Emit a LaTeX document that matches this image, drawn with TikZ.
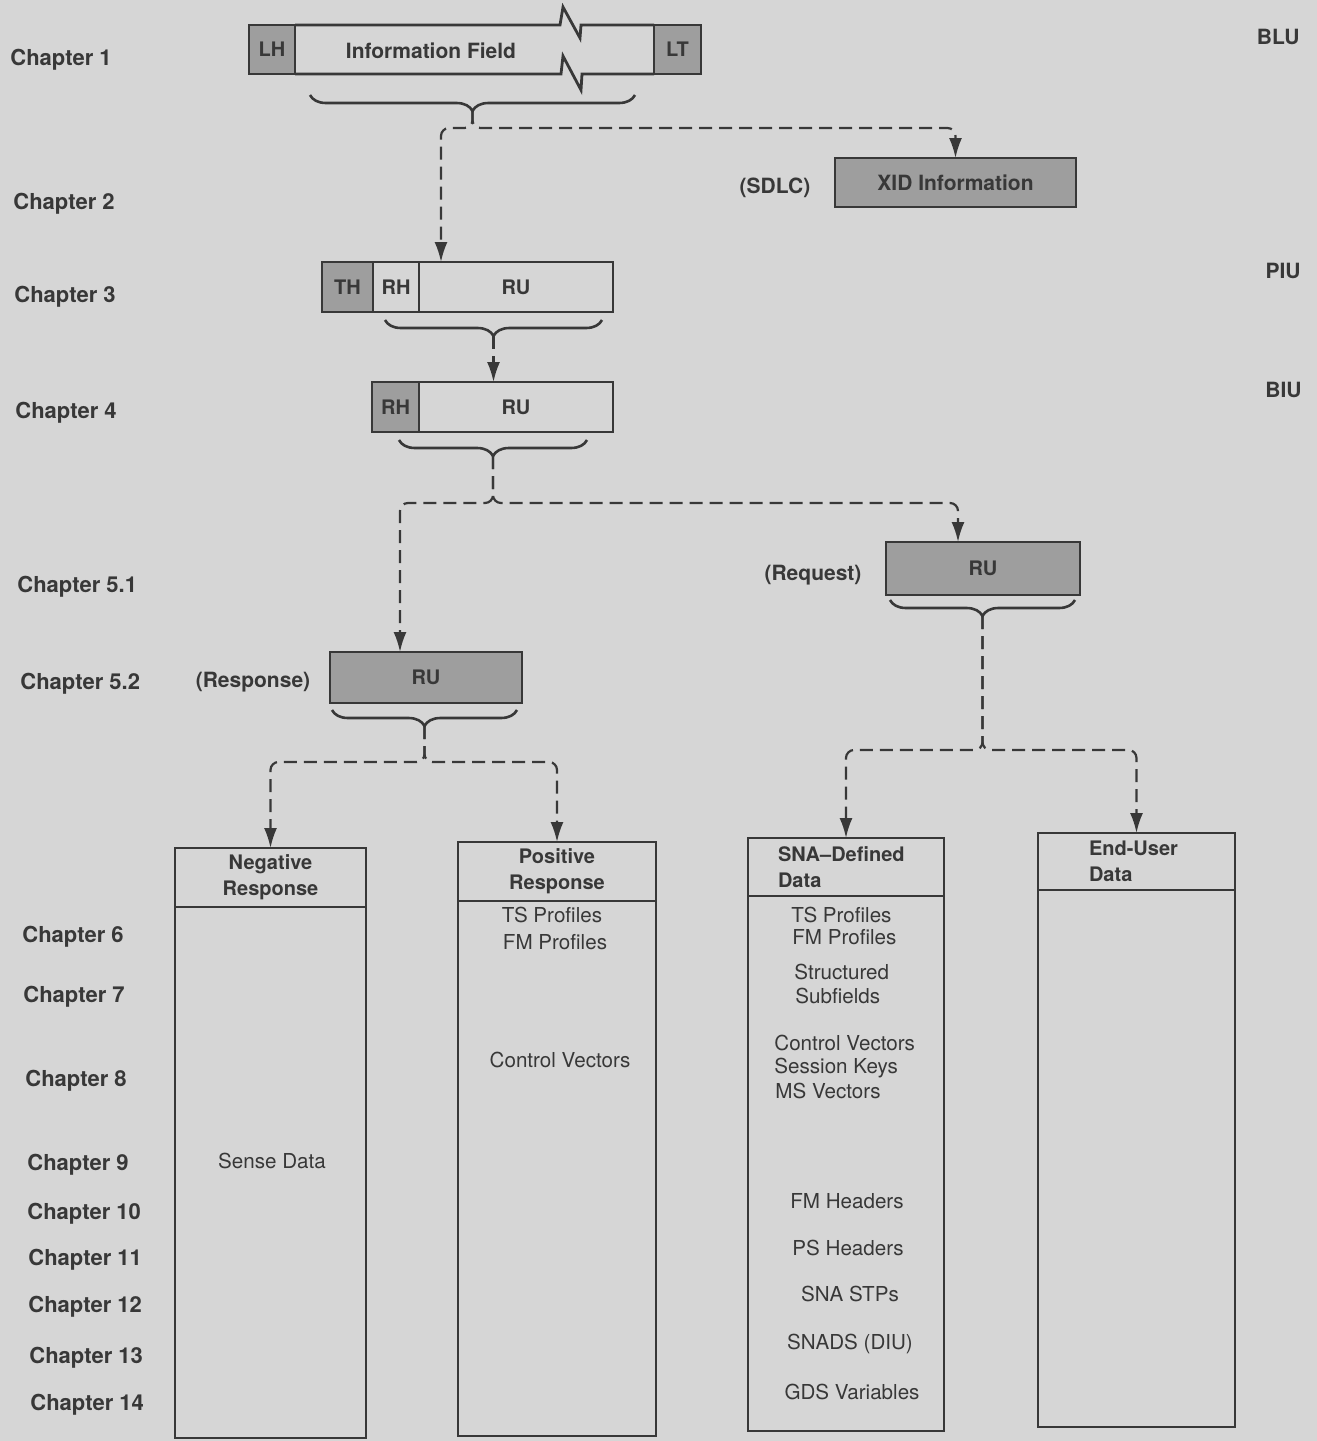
\documentclass[tikz,border=0pt]{standalone}
\usepackage{fontspec}
\setmainfont{TeX Gyre Heros}
\usetikzlibrary{arrows.meta,decorations.pathreplacing,calc}
\definecolor{papier}{gray}{0.84}
\definecolor{grau}{gray}{0.62}
\definecolor{tinte}{gray}{0.22}

\begin{document}
\begin{tikzpicture}[x=0.5pt,y=-0.5pt,>={Latex[length=10pt,width=6.5pt]},
  box/.style={draw=tinte,line width=1.4pt,inner sep=0pt,outer sep=0pt,text=tinte,font=\bfseries\fontsize{10}{13}\selectfont},
  grau box/.style={box,fill=grau},
  kopf/.style={box,align=center},
  kap/.style={anchor=west,inner sep=0pt,text=tinte,font=\bfseries\fontsize{11}{13}\selectfont},
  lbl/.style={inner sep=0pt,text=tinte,font=\bfseries\fontsize{10.5}{13}\selectfont},
  txt/.style={inner sep=0pt,text=tinte,font=\fontsize{10.3}{12}\selectfont},
  klammer/.style={draw=tinte,line width=1.3pt,decorate,decoration={brace,mirror,amplitude=8pt}},
  link/.style={draw=tinte,line width=1.1pt,dash pattern=on 6.5pt off 3.5pt,rounded corners=4pt,->}]

%Hintergrund (Papierfarbe) legt auch die Bildgroesse fest
\useasboundingbox (0,0) rectangle (1317,1441);
\fill[papier] (0,0) rectangle (1317,1441);

%Kapitel links
\foreach \n/\x/\y/\t in {1/10/60/1, 2/13/204/2, 3/14/297/3, 4/15/413/4, 51/17/587/5.1, 52/20/684/5.2,
  6/22/937/6, 7/23/997/7, 8/25/1081/8, 9/27/1165/9, 10/27/1214/10, 11/28/1260/11,
  12/28/1307/12, 13/29/1358/13, 14/30/1405/14}
  \node[kap] (ch\n) at (\x,\y) {Chapter \t};

%Einheiten rechts
\node[lbl,anchor=east] (blu) at (1300,37) {BLU};
\node[lbl,anchor=east] (piu) at (1301,271) {PIU};
\node[lbl,anchor=east] (biu) at (1302,390) {BIU};

%BLU mit unterbrochenem Informationsfeld
\node[grau box,minimum width=23pt,minimum height=24.5pt] (lh) at (272,49.5) {LH};
\node[grau box,minimum width=23.5pt,minimum height=24.5pt] (lt) at (677.5,49.5) {LT};
\draw[tinte,line width=1.4pt] (lh.north east) -- (560,25) -- (563,7) -- (580,38) -- (581,25) -- (lt.north west);
\draw[tinte,line width=1.4pt] (lh.south east) -- (561,74) -- (563,56) -- (581,90) -- (582,74) -- (lt.south west);
\node[lbl] (info) at (431,51) {Information Field};
\draw[klammer] (310,95) -- (635,95);
\coordinate (blut) at (472.5,111);
\coordinate (j1) at (472.5,128);

%XID
\node[grau box,minimum width=120.5pt,minimum height=24.5pt,font=\bfseries\fontsize{10.5}{13}\selectfont] (xid) at (955.5,182.5) {XID Information};
\node[lbl] (sdlc) at (775,188) {(SDLC)};

%PIU
\node[grau box,minimum width=25.5pt,minimum height=25pt] (th) at (347.5,287) {TH};
\node[box,minimum width=23pt,minimum height=25pt,anchor=west] (piurh) at (th.east) {RH};
\node[box,minimum width=97pt,minimum height=25pt,anchor=west] (piuru) at (piurh.east) {RU};
\draw[klammer] (385,320) -- (602,320);
\coordinate (piut) at (493.5,336);

%BIU
\node[grau box,minimum width=23.5pt,minimum height=25pt] (biurh) at (395.5,407) {RH};
\node[box,minimum width=97pt,minimum height=25pt,anchor=west] (biuru) at (biurh.east) {RU};
\draw[klammer] (399,440) -- (587,440);
\coordinate (biut) at (493,456);
\coordinate (j2) at (493,503);

%Request und Response
\node[grau box,minimum width=97pt,minimum height=26.5pt] (req) at (983,568.5) {RU};
\node[lbl] (reql) at (813,575) {(Request)};
\draw[klammer] (890,600) -- (1075,600);
\coordinate (reqt) at (982.5,616);
\coordinate (j3) at (982.5,750);

\node[grau box,minimum width=96pt,minimum height=25.5pt] (resp) at (426,677.5) {RU};
\node[lbl] (respl) at (253,682) {(Response)};
\draw[klammer] (332,710) -- (517,710);
\coordinate (respt) at (424.5,726);
\coordinate (j4) at (424.5,762);

%Spalten unten
\node[kopf,minimum width=95.5pt,minimum height=29.5pt] (negh) at (270.5,877.5) {Negative\\Response};
\node[box,minimum width=95.5pt,minimum height=265.5pt,anchor=north] (negb) at (negh.south) {};
\node[kopf,minimum width=99pt,minimum height=29.5pt] (posh) at (557,871.5) {Positive\\Response};
\node[box,minimum width=99pt,minimum height=267.5pt,anchor=north] (posb) at (posh.south) {};
\node[box,align=left,text width=68pt,inner xsep=15pt,minimum height=29pt] (snah) at (846,867) {SNA--Defined\\Data};
\node[box,minimum width=98pt,minimum height=267.5pt,anchor=north] (snab) at (snah.south) {};
\node[box,align=left,text width=47.5pt,inner xsep=25.5pt,minimum height=28.5pt] (euh) at (1136.5,861.5) {End-User\\Data};
\node[box,minimum width=98.5pt,minimum height=268.5pt,anchor=north] (eub) at (euh.south) {};

%Inhalte
\node[txt] (sense) at (272,1161) {Sense Data};
\node[txt] (ptsp) at (552,915) {TS Profiles};
\node[txt] (pfmp) at (555,942) {FM Profiles};
\node[txt] (pcv) at (560,1060) {Control Vectors};
\foreach \n/\x/\y/\t in {tsp/791/915/TS Profiles, fmp/792/937/FM Profiles, str/794/972/Structured,
  sub/795/996/Subfields, cv/774/1043/Control Vectors, sk/774/1068/Session Keys, ms/775/1091/MS Vectors}
  \node[txt,anchor=west] (s\n) at (\x,\y) {\t};
\foreach \n/\x/\y/\t in {fmh/847/1201/FM Headers, psh/848/1248/PS Headers, stp/850/1294/SNA STPs,
  diu/850/1344/SNADS (DIU), gds/852/1392/GDS Variables}
  \node[txt] (s\n) at (\x,\y) {\t};

%Verbindungen (gestrichelt)
\draw[link] (blut) -- (j1) -| ([xshift=11pt]piuru.north west);
\draw[link] (blut) -- (j1) -| (xid.north);
\draw[link] (piut) -- (piut |- biuru.north);
\draw[link] (biut) -- (j2) -| ([xshift=35pt]resp.north west);
\draw[link] (biut) -- (j2) -| ([xshift=-12.5pt]req.north);
\draw[link] (respt) -- (j4) -| (negh.north);
\draw[link] (respt) -- (j4) -| (posh.north);
\draw[link] (reqt) -- (j3) -| (snah.north);
\draw[link] (reqt) -- (j3) -| (euh.north);

\end{tikzpicture}
\end{document}
